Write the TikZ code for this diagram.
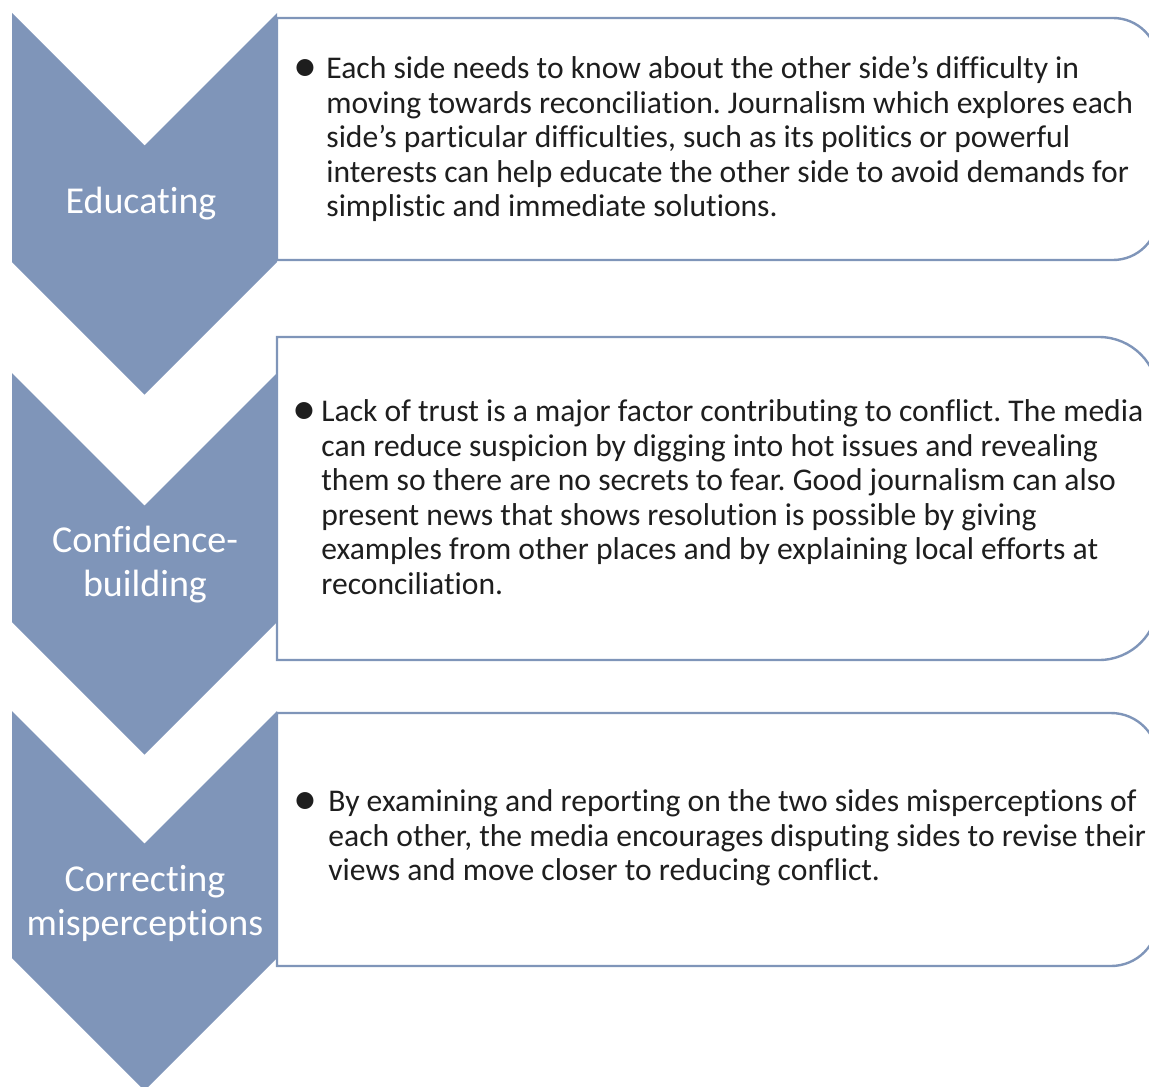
\documentclass[tikz,border=0pt]{standalone}
\usepackage{fontspec}
\setmainfont{Carlito}[Ligatures={NoCommon}]
\definecolor{chev}{RGB}{127,149,185}
\definecolor{txtcol}{RGB}{30,30,30}
\newcommand{\blt}[1]{\llap{{\fontsize{24pt}{24pt}\selectfont\raisebox{-1.3pt}{•}}\hspace{#1}}}
\begin{document}
\frenchspacing
\begin{tikzpicture}[x=0.5pt,y=-0.5pt,
  chevshape/.style={fill=chev,draw=none},
  boxshape/.style={draw=chev,line width=1.2pt,fill=white},
  lbl/.style={text=white,font=\fontsize{19pt}{22pt}\selectfont,align=center,inner sep=0pt},
  body/.style={text=txtcol,font=\fontsize{15.8pt}{17.25pt}\selectfont\frenchspacing,align=left,inner sep=0pt,anchor=west}]
\useasboundingbox (0,0) rectangle (1149,1086);
\clip (0,0) rectangle (1149,1086);
% boxes
\draw[boxshape] (277,18) -- (1113,18) arc[start angle=90,end angle=0,radius=22.5pt]
  -- (1158,215) arc[start angle=0,end angle=-90,radius=22.5pt] -- (277,260) -- cycle;
\draw[boxshape] (277,337) -- (1099,337) arc[start angle=90,end angle=0,radius=29.5pt]
  -- (1158,601) arc[start angle=0,end angle=-90,radius=29.5pt] -- (277,660) -- cycle;
\draw[boxshape] (277,713) -- (1111,713) arc[start angle=90,end angle=0,radius=23.5pt]
  -- (1158,919) arc[start angle=0,end angle=-90,radius=23.5pt] -- (277,966) -- cycle;
% chevrons
\fill[chevshape] (12,13) -- (144.5,145.5) -- (277,13) -- (277,262) -- (144.5,394.5) -- (12,262) -- cycle;
\fill[chevshape] (12,373) -- (144.5,505.5) -- (277,373) -- (277,622) -- (144.5,754.5) -- (12,622) -- cycle;
\fill[chevshape] (12,711) -- (144.5,843.5) -- (277,711) -- (277,958) -- (144.5,1090.5) -- (12,958) -- cycle;
% labels
\node[lbl] (l1) at (141,204) {Educating};
\node[lbl] (l2) at (145,565) {Confidence-\\building};
\node[lbl] (l3) at (145,903) {Correcting\\misperceptions};
% texts
\node[body] (t1) at (326,139) {\blt{4.5pt}Each side needs to know about the other side’s difficulty in\\
moving towards reconciliation. Journalism which explores each\\
side’s particular difficulties, such as its politics or powerful\\
interests can help educate the other side to avoid demands for\\
simplistic and immediate solutions.};
\node[body] (t2) at (321,497) {\blt{2.5pt}Lack of trust is a major factor contributing to conflict. The media\\
can reduce suspicion by digging into hot issues and revealing\\
them so there are no secrets to fear. Good journalism can also\\
present news that shows resolution is possible by giving\\
examples from other places and by explaining local efforts at\\
reconciliation.};
\node[body] (t3) at (328,838) {\blt{5.5pt}By examining and reporting on the two sides misperceptions of\\
each other, the media encourages disputing sides to revise their\\
views and move closer to reducing conflict.};
\end{tikzpicture}
\end{document}
